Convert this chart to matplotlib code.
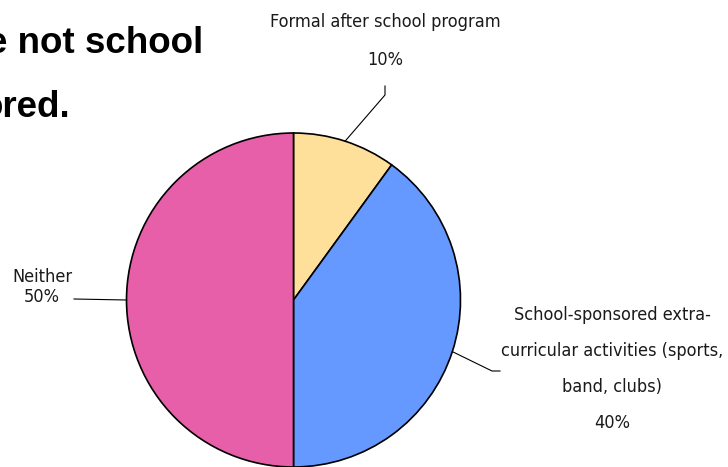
import numpy as np
import matplotlib

matplotlib.use("Agg")
import matplotlib.pyplot as plt

# Slices, clockwise from 12 o'clock
CATEGORIES = [
    "Formal after school program",
    "School-sponsored extra-\ncurricular activities (sports,\nband, clubs)",
    "Neither",
]
SHARES = [10, 40, 50]
COLORS = ["#FFE09A", "#6699FF", "#E65FA8"]

TITLE_LINES = ["e not school", "ored."]

W, H = 728, 467
CENTER = (293.5, H - 300)
RADIUS = 167

fig = plt.figure(figsize=(W / 100, H / 100), dpi=100)
ax = fig.add_axes([0, 0, 1, 1])

wedges, _ = ax.pie(
    SHARES,
    colors=COLORS,
    startangle=90,
    counterclock=False,
    center=CENTER,
    radius=RADIUS,
    wedgeprops={"edgecolor": "black", "linewidth": 1.2},
    frame=True,
)
ax.set_xlim(0, W)
ax.set_ylim(0, H)
ax.set_aspect("equal")
ax.axis("off")

# label anchor (text centre x, top line y), line gap, leader path after the pie edge
label_pos = [(385, H - 22), (612, H - 315), (42, H - 277)]
label_gap = [38, 36, 20]
leader_path = [
    [(385, H - 95), (385, H - 86)],
    [(492, H - 371), (500, H - 371)],
    [(74, H - 299)],
]

for w, name, share, (lx, ly), gap, path in zip(wedges, CATEGORIES, SHARES,
                                                label_pos, label_gap, leader_path):
    mid = np.deg2rad((w.theta1 + w.theta2) / 2)
    sx = CENTER[0] + RADIUS * np.cos(mid)
    sy = CENTER[1] + RADIUS * np.sin(mid)
    pts = [(sx, sy)] + path
    ax.plot([p[0] for p in pts], [p[1] for p in pts], color="black", lw=0.8)
    lines = name.split("\n") + [f"{share}%"]
    for i, t in enumerate(lines):
        ax.text(lx, ly - i * gap, t, ha="center", va="center",
                fontsize=13, family="DejaVu Sans", fontstretch="condensed",
                color="#1a1a1a")

# cropped heading from the slide
bold = dict(fontsize=26.5, fontweight="bold", family=["Liberation Sans", "DejaVu Sans"])
ax.text(203, H - 53, TITLE_LINES[0], ha="right", va="baseline", **bold)
ax.text(70, H - 117, TITLE_LINES[1], ha="right", va="baseline", **bold)

fig.savefig("out.png", dpi=100)
